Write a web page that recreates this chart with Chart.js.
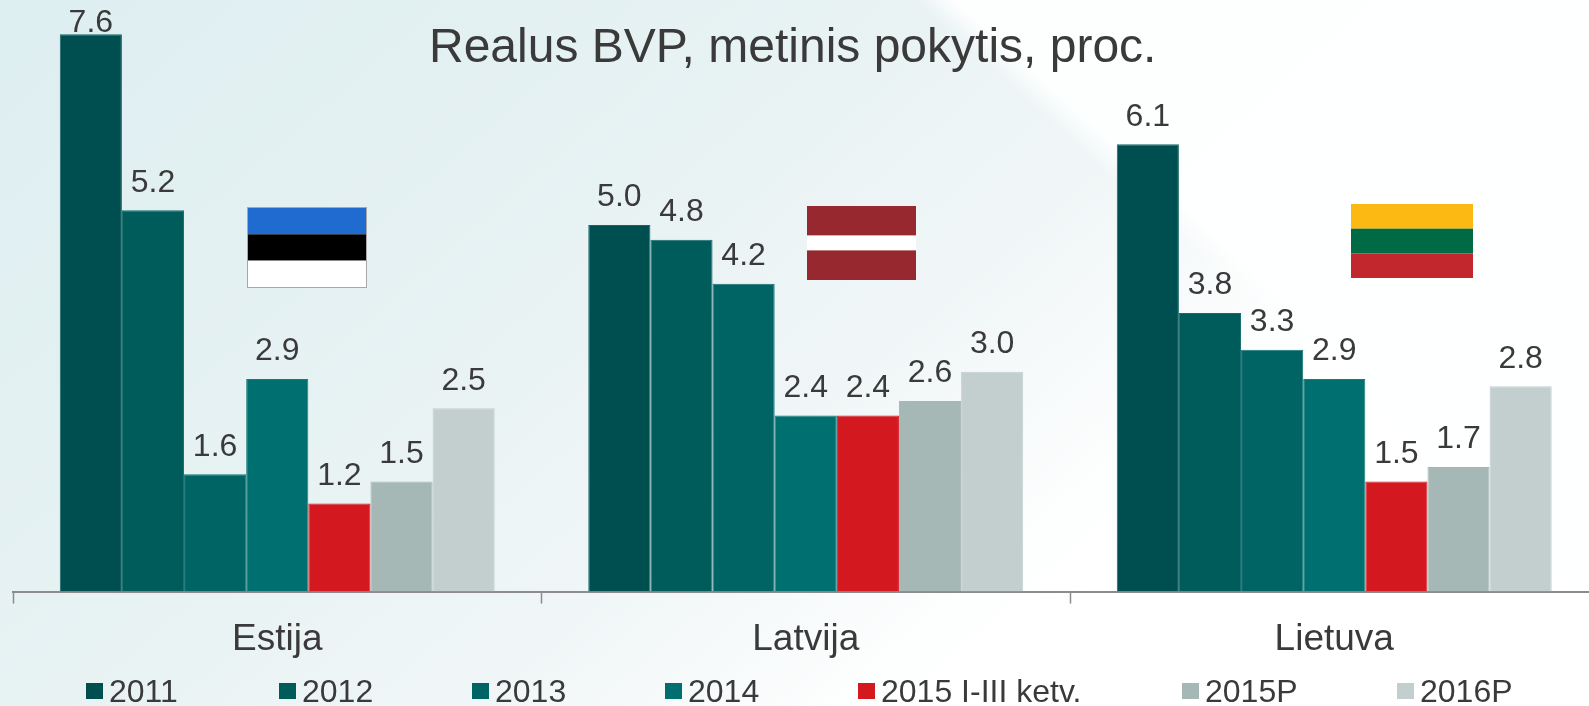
<!DOCTYPE html>
<html><head><meta charset="utf-8">
<script src="https://cdn.jsdelivr.net/npm/chart.js@4"></script>
<style>
html,body{margin:0;padding:0;width:1589px;height:706px;overflow:hidden;background:#fff}
#bg{position:absolute;left:0;top:0;width:1589px;height:706px;
background:
linear-gradient(42deg,rgba(255,255,255,0) 71.6%,rgba(254,255,255,.95) 73.2%),
linear-gradient(139deg,#deeff1 0%,#e2f0f1 18%,#e7f2f3 33%,#eaf3f4 40%,#f0f6f7 53%,#f7fafb 62%,#fdfefe 68.5%,#ffffff 74%);}
#wrap{position:absolute;left:0;top:0;width:1589px;height:706px;overflow:hidden}
</style></head><body>
<div id="bg"></div>
<div id="wrap"><canvas id="c" width="1600" height="706"></canvas></div>
<script>
const categories = ["Estija","Latvija","Lietuva"];
const seriesNames = ["2011","2012","2013","2014","2015 I-III ketv.","2015P","2016P"];
const s2011 = [7.6,5.0,6.1];
const s2012 = [5.2,4.8,3.8];
const s2013 = [1.6,4.2,3.3];
const s2014 = [2.9,2.4,2.9];
const s2015q = [1.2,2.4,1.5];
const s2015p = [1.5,2.6,1.7];
const s2016p = [2.5,3.0,2.8];
const seriesValues = [s2011,s2012,s2013,s2014,s2015q,s2015p,s2016p];
const colors = ["#004f50","#005b5b","#006464","#006f6f","#d4181f","#a5b8b6","#c2cfce"];
const edge = ["#156566","#156b6b","#157272","#157a7a","#d4181f","#a5b8b6","#c2cfce"];
const legendX = [86,279,472,665,858,1182,1397];
const titleText = "Realus BVP, metinis pokytis, proc.";
const FONT = '"Liberation Sans",Arial,sans-serif';
const TEXT = "#3a3a3a";

const flags = [
 {x:248,y:208,w:118,h:79,bands:["#206bcf","#000000","#ffffff"],weights:[1,1,1],frame:"#a8a8a8"},
 {x:807,y:206,w:109,h:74,bands:["#982830","#ffffff","#982830"],weights:[2,1,2]},
 {x:1351,y:204,w:122,h:74,bands:["#fdb913","#006a44","#c1272d"],weights:[1,1,1]}
];

const decor = {
  id:"decor",
  afterDraw(chart){
    const g = chart.ctx;
    g.save();
    g.fillStyle = TEXT; g.textAlign="left"; g.textBaseline="alphabetic";
    g.font = '48px '+FONT;
    g.fillText(titleText,429,62);
    g.font = '32px '+FONT; g.textAlign="center";
    chart.data.datasets.forEach((d,i)=>{
      chart.getDatasetMeta(i).data.forEach((bar,j)=>{
        g.fillText(d.data[j].toFixed(1),bar.x,Math.max(bar.y-18.5,32));
      });
    });
    flags.forEach(f=>{
      const tot=f.weights.reduce((a,b)=>a+b,0); let y=f.y;
      f.bands.forEach((c,k)=>{
        const h=f.h*f.weights[k]/tot;
        g.fillStyle=c; g.fillRect(f.x,y,f.w,h); y+=h;
      });
      if(f.frame){g.strokeStyle=f.frame;g.lineWidth=1;g.strokeRect(f.x-.5,f.y-.5,f.w+1,f.h+1);}
    });
    g.textAlign="left"; g.font='32px '+FONT;
    chart.data.datasets.forEach((d,i)=>{
      g.fillStyle=d.backgroundColor;
      g.fillRect(legendX[i],683,17,16);
      g.fillStyle=TEXT;
      g.fillText(d.label,legendX[i]+23,702);
    });
    g.restore();
  }
};

new Chart(document.getElementById("c"),{
  type:"bar",
  data:{labels:categories,datasets:seriesNames.map((n,i)=>({
    label:n,data:seriesValues[i],backgroundColor:colors[i],borderColor:edge[i],borderWidth:1,
    barPercentage:1,categoryPercentage:0.823
  }))},
  options:{
    responsive:false,animation:false,
    layout:{padding:{left:13,right:1.5,top:5,bottom:30}},
    plugins:{legend:{display:false},title:{display:false},tooltip:{enabled:false}},
    scales:{
      x:{offset:true,
        grid:{display:true,offset:true,drawOnChartArea:false,drawTicks:true,tickLength:12,tickColor:"#8c8c8c",tickWidth:1.5},
        border:{display:true,color:"#8c8c8c",width:2},
        ticks:{color:TEXT,font:{size:37,family:FONT},padding:14,maxRotation:0}
      },
      y:{display:false,min:0,max:8}
    }
  },
  plugins:[decor]
});
</script>
</body></html>
